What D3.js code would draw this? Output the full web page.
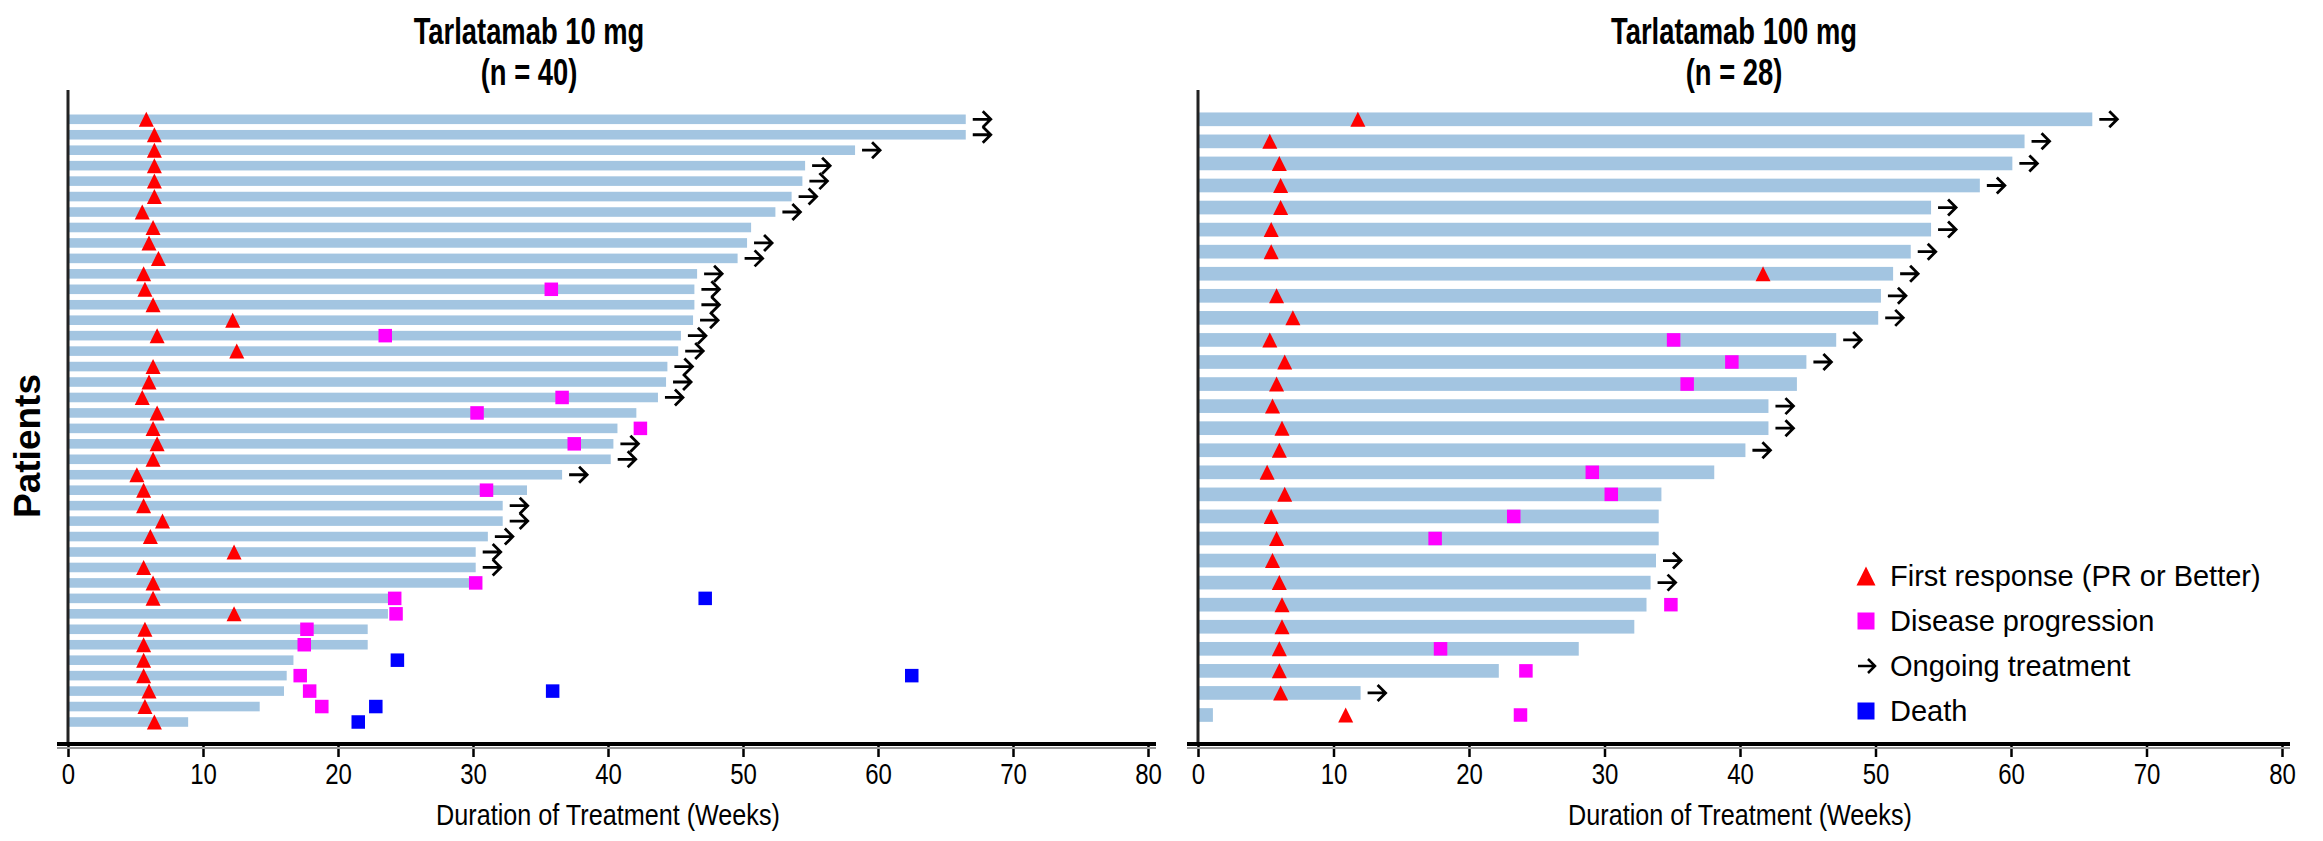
<!DOCTYPE html>
<html>
<head>
<meta charset="utf-8">
<title>Tarlatamab duration of treatment</title>
<script src="https://cdnjs.cloudflare.com/ajax/libs/d3/7.8.5/d3.min.js"></script>
<style>
  body { margin: 0; background: #fff; }
  text { font-family: "Liberation Sans", Arial, sans-serif; fill: #000; }
</style>
</head>
<body>
<div id="viz"></div>
<script>
// x axis ticks (weeks)
var weekTicks = [0, 10, 20, 30, 40, 50, 60, 70, 80];

// Tarlatamab 10 mg, patients from top to bottom
var dose10Duration = [66.5, 66.5, 58.3, 54.6, 54.4, 53.6, 52.4, 50.6, 50.3, 49.6,
                      46.6, 46.4, 46.4, 46.3, 45.4, 45.2, 44.4, 44.3, 43.7, 42.1,
                      40.7, 40.4, 40.2, 36.6, 34.0, 32.2, 32.2, 31.1, 30.2, 30.2,
                      29.7, 23.7, 23.7, 22.2, 22.2, 16.7, 16.2, 16.0, 14.2, 8.9];
var dose10Ongoing = [1, 1, 1, 1, 1, 1, 1, 0, 1, 1,
                     1, 1, 1, 1, 1, 1, 1, 1, 1, 0,
                     0, 1, 1, 1, 0, 1, 1, 1, 1, 1,
                     0, 0, 0, 0, 0, 0, 0, 0, 0, 0];
var dose10Response = [5.8, 6.4, 6.4, 6.4, 6.4, 6.4, 5.5, 6.3, 6.0, 6.7,
                      5.6, 5.7, 6.3, 12.2, 6.6, 12.5, 6.3, 6.0, 5.5, 6.6,
                      6.3, 6.6, 6.3, 5.1, 5.6, 5.6, 7.0, 6.1, 12.3, 5.6,
                      6.3, 6.3, 12.3, 5.7, 5.6, 5.6, 5.6, 6.0, 5.7, 6.4];
// [patient number, week]
var dose10Progression = [[12, 35.8], [15, 23.5], [19, 36.6], [20, 30.3], [21, 42.4],
                         [22, 37.5], [25, 31.0], [31, 30.2], [32, 24.2], [33, 24.3],
                         [34, 17.7], [35, 17.5], [37, 17.2], [38, 17.9], [39, 18.8]];
var dose10Death = [[32, 47.2], [36, 24.4], [37, 62.5], [38, 35.9], [39, 22.8], [40, 21.5]];

// Tarlatamab 100 mg
var dose100Duration = [66.0, 61.0, 60.1, 57.7, 54.1, 54.1, 52.6, 51.3, 50.4, 50.2,
                       47.1, 44.9, 44.2, 42.1, 42.1, 40.4, 38.1, 34.2, 34.0, 34.0,
                       33.8, 33.4, 33.1, 32.2, 28.1, 22.2, 12.0, 1.1];
var dose100Ongoing = [1, 1, 1, 1, 1, 1, 1, 1, 1, 1,
                      1, 1, 0, 1, 1, 1, 0, 0, 0, 0,
                      1, 1, 0, 0, 0, 0, 1, 0];
var dose100Response = [11.8, 5.3, 6.0, 6.1, 6.1, 5.4, 5.4, 41.7, 5.8, 7.0,
                       5.3, 6.4, 5.8, 5.5, 6.2, 6.0, 5.1, 6.4, 5.4, 5.8,
                       5.5, 6.0, 6.2, 6.2, 6.0, 6.0, 6.1, 10.9];
var dose100Progression = [[11, 35.1], [12, 39.4], [13, 36.1], [17, 29.1], [18, 30.5],
                          [19, 23.3], [20, 17.5], [23, 34.9], [25, 17.9], [26, 24.2],
                          [28, 23.8]];
var dose100Death = [];

var legendLabels = ["First response (PR or Better)", "Disease progression", "Ongoing treatment", "Death"];

var width = 2323, height = 841,
    axisY = 744,
    topY = 90,
    narrow = 0.8;   // the original uses a condensed face

var barColor = "#a3c5e1",
    respColor = "#ff0000",
    progColor = "#ff00ff",
    deathColor = "#0000ff";

var svg = d3.select("#viz").append("svg")
    .attr("width", width)
    .attr("height", height);

// triangle centred on (0,0)
function triangle(s) {
  return "M0," + (-s / 2) + "L" + (s / 2) + "," + (s / 2) + "L" + (-s / 2) + "," + (s / 2) + "Z";
}
// "->" arrow starting at (0,0)
function arrowPath(len, head) {
  return "M0,0H" + len + "M" + (len - head) + "," + (-head) + "L" + len + ",0L" + (len - head) + "," + head;
}

function drawPanel(opt) {
  var g = svg.append("g");
  var n = opt.duration.length;
  var rows = d3.range(1, n + 1);

  var x = d3.scaleLinear().domain([0, 80]).range(opt.xRange);
  var y = d3.scalePoint().domain(rows).range(opt.yRange);
  var barH = y.step() * 0.62;

  // bars
  g.selectAll("rect.bar")
    .data(rows)
    .enter().append("rect")
      .attr("class", "bar")
      .attr("x", x(0))
      .attr("y", function (d) { return y(d) - barH / 2; })
      .attr("width", function (d) { return x(opt.duration[d - 1]) - x(0); })
      .attr("height", barH)
      .style("fill", barColor);

  // ongoing arrows
  g.selectAll("path.ongoing")
    .data(rows.filter(function (d) { return opt.ongoing[d - 1]; }))
    .enter().append("path")
      .attr("class", "ongoing")
      .attr("transform", function (d) { return "translate(" + (x(opt.duration[d - 1]) + 7) + "," + y(d) + ")"; })
      .attr("d", arrowPath(18, 8))
      .style("fill", "none")
      .style("stroke", "#000")
      .style("stroke-width", 2.8);

  // progression and death squares
  var sq = 13.5;
  g.selectAll("rect.prog")
    .data(opt.progression)
    .enter().append("rect")
      .attr("class", "prog")
      .attr("x", function (d) { return x(d[1]) - sq / 2; })
      .attr("y", function (d) { return y(d[0]) - sq / 2; })
      .attr("width", sq).attr("height", sq)
      .style("fill", progColor);

  g.selectAll("rect.death")
    .data(opt.death)
    .enter().append("rect")
      .attr("class", "death")
      .attr("x", function (d) { return x(d[1]) - sq / 2; })
      .attr("y", function (d) { return y(d[0]) - sq / 2; })
      .attr("width", sq).attr("height", sq)
      .style("fill", deathColor);

  // first response triangles
  g.selectAll("path.resp")
    .data(rows)
    .enter().append("path")
      .attr("class", "resp")
      .attr("transform", function (d) { return "translate(" + x(opt.response[d - 1]) + "," + y(d) + ")"; })
      .attr("d", triangle(15))
      .style("fill", respColor);

  // y axis (no ticks)
  g.append("line")
    .attr("x1", x(0)).attr("x2", x(0))
    .attr("y1", topY).attr("y2", axisY)
    .style("stroke", "#222")
    .style("stroke-width", 3);

  // x axis
  var xAxis = g.append("g")
    .attr("transform", "translate(0," + axisY + ")")
    .call(d3.axisBottom(x).tickValues(weekTicks).tickSize(13).tickPadding(6).tickSizeOuter(0));
  xAxis.select(".domain")
    .attr("d", "M" + (x(0) - 11) + ",0H" + (x(80) + 8))
    .style("stroke", "#000")
    .style("stroke-width", 4);
  xAxis.selectAll(".tick line").style("stroke", "#000").style("stroke-width", 2.5);
  xAxis.selectAll(".tick text")
    .attr("transform", "scale(" + narrow + ",1)")
    .style("font-size", "30px")
    .style("font-family", null);

  g.append("line")
    .attr("x1", x(0) - 11).attr("x2", x(80) + 8)
    .attr("y1", axisY + 4).attr("y2", axisY + 4)
    .style("stroke", "#999")
    .style("stroke-width", 2);

  g.append("text")
    .attr("transform", "translate(" + ((x(0) + x(80)) / 2) + "," + (axisY + 81) + ") scale(0.84,1)")
    .attr("text-anchor", "middle")
    .style("font-size", "30px")
    .text("Duration of Treatment (Weeks)");

  // panel title
  var title = g.append("text")
    .attr("transform", "translate(" + opt.titleX + ",44) scale(0.74,1)")
    .attr("text-anchor", "middle")
    .style("font-size", "37px")
    .style("font-weight", "bold");
  title.append("tspan").attr("x", 0).text(opt.title);
  title.append("tspan").attr("x", 0).attr("dy", 41).text("(n = " + n + ")");

  return { x: x, y: y };
}

drawPanel({
  duration: dose10Duration, ongoing: dose10Ongoing, response: dose10Response,
  progression: dose10Progression, death: dose10Death,
  xRange: [68, 1148], yRange: [119.3, 722],
  title: "Tarlatamab 10 mg", titleX: 529
});

drawPanel({
  duration: dose100Duration, ongoing: dose100Ongoing, response: dose100Response,
  progression: dose100Progression, death: dose100Death,
  xRange: [1198, 2282], yRange: [119.3, 715],
  title: "Tarlatamab 100 mg", titleX: 1734
});

// y label
svg.append("text")
  .attr("transform", "translate(40,446) rotate(-90)")
  .attr("text-anchor", "middle")
  .style("font-size", "37px")
  .style("font-weight", "bold")
  .text("Patients");

// legend
var legend = svg.append("g").attr("class", "legend")
  .attr("transform", "translate(1866,576)");
var item = legend.selectAll("g")
  .data(legendLabels)
  .enter().append("g")
    .attr("transform", function (d, i) { return "translate(0," + i * 45 + ")"; });

item.each(function (d, i) {
  var it = d3.select(this);
  if (i === 0) {
    it.append("path").attr("d", triangle(19)).style("fill", respColor);
  } else if (i === 2) {
    it.append("path").attr("transform", "translate(-8,0)")
      .attr("d", arrowPath(17, 7))
      .style("fill", "none").style("stroke", "#000").style("stroke-width", 2.5);
  } else {
    it.append("rect").attr("x", -8.5).attr("y", -8.5).attr("width", 17).attr("height", 17)
      .style("fill", i === 1 ? progColor : deathColor);
  }
});
item.append("text")
  .attr("x", 24)
  .attr("dy", "0.36em")
  .style("font-size", "29px")
  .text(function (d) { return d; });
</script>
</body>
</html>
